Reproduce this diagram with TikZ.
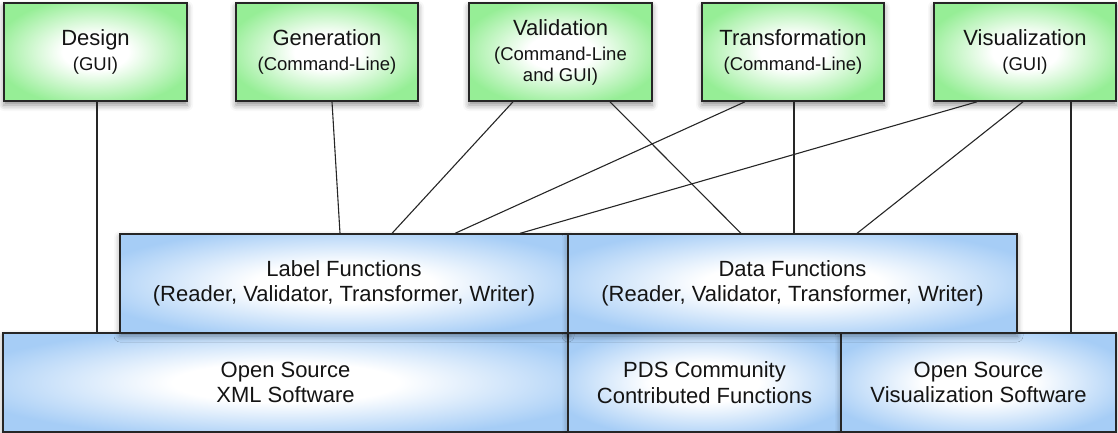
\documentclass[tikz,border=0pt]{standalone}
\usepackage{fontspec}
\setmainfont{Liberation Sans}
\usetikzlibrary{calc,shadows.blur}
\definecolor{gedge}{RGB}{150,238,150}
\definecolor{bedge}{RGB}{166,205,246}
\definecolor{txt}{RGB}{20,20,20}
\pgfdeclareradialshading{gglow}{\pgfpoint{0bp}{0bp}}{color(0bp)=(white); color(9bp)=(white); color(28bp)=(gedge); color(50bp)=(gedge)}
\pgfdeclareradialshading{bglow}{\pgfpoint{0bp}{0bp}}{color(0bp)=(white); color(10bp)=(white); color(29bp)=(bedge); color(50bp)=(bedge)}
\tikzset{
  basebox/.style={rectangle, inner sep=0pt, align=center, text=txt},
  topbox/.style={basebox, draw=black!85, line width=1.6pt, shade, shading=gglow,
    minimum width=182pt, minimum height=98pt,
    font=\fontsize{22}{25}\selectfont,
    blur shadow={shadow xshift=0pt, shadow yshift=-4pt, shadow blur radius=6pt, shadow opacity=45}},
  lowbox/.style={basebox, draw=black!85, line width=1.3pt, shade, shading=bglow,
    minimum height=99pt,
    font=\fontsize{22}{25.5}\selectfont,
    blur shadow={shadow xshift=0pt, shadow yshift=-3pt, shadow blur radius=6pt, shadow opacity=40}},
  wire/.style={draw=black!85, line width=1.1pt},
}
\newcommand{\subf}{\fontsize{18.5}{25}\selectfont}
\begin{document}
\begin{tikzpicture}[x=1pt, y=-1pt]
\useasboundingbox (0,0) rectangle (1118,433);
% bottom row
\node[lowbox, minimum width=565pt] (xml) at (285.5,382.5) {Open Source\\XML Software};
\node[lowbox, minimum width=273pt] (pds) at (704.5,382.5) {PDS Community\\Contributed Functions};
\node[lowbox, minimum width=275pt] (osvis) at (978.5,382.5) {Open Source\\Visualization Software};
% middle row
\node[lowbox, minimum width=448pt] (label) at (344,283.5) {Label Functions\\(Reader, Validator, Transformer, Writer)};
\node[lowbox, minimum width=449pt] (data) at (792.5,283.5) {Data Functions\\(Reader, Validator, Transformer, Writer)};
% top row
\node[topbox, minimum width=183pt] (design) at (95.5,52) {\rule{0pt}{3pt}Design\\\subf (GUI)};
\node[topbox] (gen) at (327,52) {\rule{0pt}{3pt}Generation\\\subf (Command-Line)};
\node[topbox, minimum width=183pt] (valid) at (560.5,52) {Validation\\\subf (Command-Line\\[-4pt]\subf and GUI)};
\node[topbox] (trans) at (793,52) {\rule{0pt}{3pt}Transformation\\\subf (Command-Line)};
\node[topbox] (vis) at (1025,52) {\rule{0pt}{3pt}Visualization\\\subf (GUI)};
% connectors
\coordinate (d1) at ($(design.south)+(1.5,0)$);
\draw[wire] (d1) -- (d1 |- xml.north);
\draw[wire] ($(gen.south)+(5,0)$) -- ($(label.north)+(-4,0)$);
\draw[wire] ($(valid.south)+(-47.5,0)$) -- ($(label.north)+(48,0)$);
\draw[wire] ($(valid.south)+(49.5,0)$) -- ($(data.north)+(-51.5,0)$);
\draw[wire] ($(trans.south)+(-48,0)$) -- ($(label.north)+(111,0)$);
\draw[wire] ($(trans.south)+(1,0)$) -- ($(data.north)+(1.5,0)$);
\draw[wire] ($(vis.south)+(-48,0)$) -- ($(label.north)+(176,0)$);
\draw[wire] ($(vis.south)+(-2,0)$) -- ($(data.north)+(64.5,0)$);
\coordinate (v1) at ($(vis.south)+(46,0)$);
\draw[wire] (v1) -- (v1 |- osvis.north);
\end{tikzpicture}
\end{document}
